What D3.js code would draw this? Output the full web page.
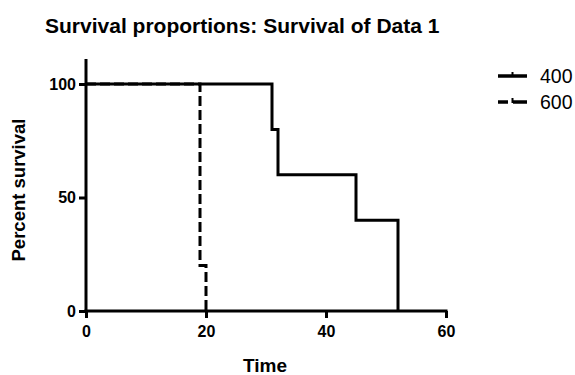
<!DOCTYPE html>
<html><head><meta charset="utf-8">
<script src="https://cdn.jsdelivr.net/npm/d3@7"></script>
<style>body{margin:0;background:#fff}svg{display:block}text{font-family:"Liberation Sans",Arial,sans-serif}</style>
</head><body>
<svg id="c" width="575" height="375"></svg>
<script>
const seriesNames = ["400", "600"];
const times400 = [0, 31, 32, 45, 52];
const surv400  = [100, 80, 60, 40, 0];
const times600 = [0, 19, 20];
const surv600  = [100, 20, 0];
const xTicks = [0, 20, 40, 60];
const yTicks = [0, 50, 100];

const svg = d3.select("#c");
const x = d3.scaleLinear().domain([0, 60]).range([86, 446]);
const y = d3.scaleLinear().domain([0, 100]).range([311, 84]);

svg.append("text").attr("x", 45).attr("y", 33).attr("font-size", 21).attr("font-weight", "bold")
  .text("Survival proportions: Survival of Data 1");

const xa = svg.append("g").attr("transform", "translate(0,311)")
  .call(d3.axisBottom(x).tickValues(xTicks).tickSize(7).tickPadding(8).tickSizeOuter(0));
const ya = svg.append("g").attr("transform", "translate(86,0)")
  .call(d3.axisLeft(y).tickValues(yTicks).tickSize(7).tickPadding(3).tickSizeOuter(0));
[xa, ya].forEach(g => {
  g.select(".domain").remove();
  g.selectAll(".tick line").attr("stroke", "#000").attr("stroke-width", 3);
  g.selectAll(".tick text").attr("font-size", 16).attr("font-weight", "bold").attr("fill", "#000")
    .style("font-family", "'Liberation Sans',Arial,sans-serif");
});
svg.append("line").attr("x1", 86).attr("x2", 86).attr("y1", 59).attr("y2", y(0) + 1.5)
  .attr("stroke", "#000").attr("stroke-width", 3);
svg.append("line").attr("x1", 84.5).attr("x2", x(60) + 1.5).attr("y1", 311).attr("y2", 311)
  .attr("stroke", "#000").attr("stroke-width", 3);

function stepPath(ts, ss) {
  const pts = ts.map((t, i) => [t, ss[i]]);
  return d3.line().x(d => x(d[0])).y(d => y(d[1])).curve(d3.curveStepAfter)(pts);
}
svg.append("path").attr("d", stepPath(times600, surv600)).attr("fill", "none")
  .attr("stroke", "#000").attr("stroke-width", 3).attr("stroke-dasharray", "10,4");
svg.append("path").attr("d", stepPath(times400, surv400)).attr("fill", "none")
  .attr("stroke", "#000").attr("stroke-width", 3);

svg.append("text").attr("transform", "translate(25,190) rotate(-90)").attr("text-anchor", "middle")
  .attr("font-size", 18.5).attr("font-weight", "bold").text("Percent survival");
svg.append("text").attr("x", 265).attr("y", 372).attr("text-anchor", "middle")
  .attr("font-size", 19).attr("font-weight", "bold").text("Time");

const lg = svg.append("g");
seriesNames.forEach((n, i) => {
  const yy = 76 + i * 26;
  if (i === 0) {
    lg.append("line").attr("x1", 498).attr("x2", 527).attr("y1", yy).attr("y2", yy)
      .attr("stroke", "#000").attr("stroke-width", 3.5);
  } else {
    lg.append("line").attr("x1", 498).attr("x2", 508).attr("y1", yy).attr("y2", yy)
      .attr("stroke", "#000").attr("stroke-width", 3.5);
    lg.append("line").attr("x1", 513).attr("x2", 527).attr("y1", yy).attr("y2", yy)
      .attr("stroke", "#000").attr("stroke-width", 3.5);
  }
  lg.append("line").attr("x1", 512.5).attr("x2", 512.5).attr("y1", yy - 4).attr("y2", yy + 1)
    .attr("stroke", "#000").attr("stroke-width", 2);
  lg.append("text").attr("x", 540).attr("y", yy + 7).attr("font-size", 19.5).text(n);
});
</script>
</body></html>
